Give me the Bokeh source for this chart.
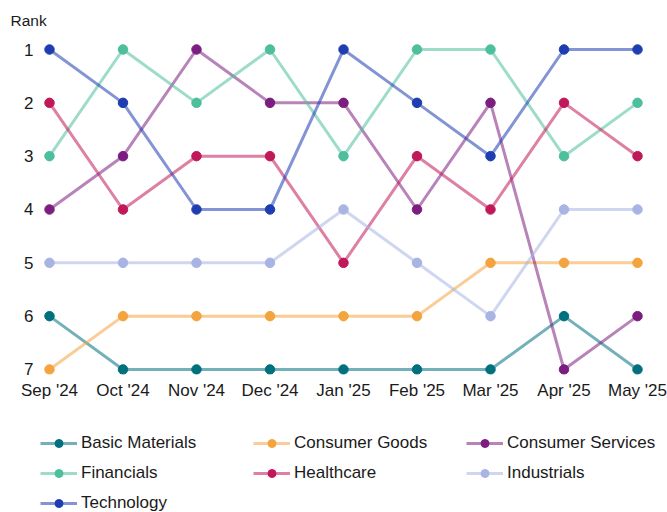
from bokeh.plotting import figure
from bokeh.layouts import column
from bokeh.models import Legend, LegendItem, FixedTicker, Range1d, Title
from bokeh.embed import file_html
from bokeh.resources import INLINE

months = ["Sep '24", "Oct '24", "Nov '24", "Dec '24", "Jan '25", "Feb '25", "Mar '25", "Apr '25", "May '25"]
basic_materials = [6, 7, 7, 7, 7, 7, 7, 6, 7]
consumer_goods = [7, 6, 6, 6, 6, 6, 5, 5, 5]
consumer_services = [4, 3, 1, 2, 2, 4, 2, 7, 6]
financials = [3, 1, 2, 1, 3, 1, 1, 3, 2]
healthcare = [2, 4, 3, 3, 5, 3, 4, 2, 3]
industrials = [5, 5, 5, 5, 4, 5, 6, 4, 4]
technology = [1, 2, 4, 4, 1, 2, 3, 1, 1]
rank_ticks = [1, 2, 3, 4, 5, 6, 7]

series = [
    ("Basic Materials", basic_materials, "#00707f"),
    ("Consumer Goods", consumer_goods, "#f4a43e"),
    ("Consumer Services", consumer_services, "#7b1e80"),
    ("Financials", financials, "#4dbf9d"),
    ("Healthcare", healthcare, "#c1185a"),
    ("Industrials", industrials, "#a8b4e3"),
    ("Technology", technology, "#1e3db0"),
]

FONT = "Liberation Sans"
x = list(range(len(months)))

p = figure(width=667, height=410, output_backend="svg", toolbar_location=None,
           x_range=Range1d(-0.1224, 8.34), y_range=Range1d(7.094, 0.756),
           min_border_left=40, min_border_right=5, min_border_top=36, min_border_bottom=36)
t = Title(text="Rank", align="left", offset=-30, text_font=FONT, text_font_size="15.5px",
          text_font_style="normal", text_color="#1a1a1a", standoff=16)
p.add_layout(t, "above")
p.outline_line_color = None
p.xgrid.grid_line_color = None
p.ygrid.grid_line_color = None

# legend strip: same series drawn outside its visible range, only the legend shows
leg = figure(width=667, height=102, output_backend="svg", toolbar_location=None,
             x_axis_type=None, y_axis_type=None,
             x_range=Range1d(100, 101), y_range=Range1d(100, 101), min_border=0)
leg.outline_line_color = None
leg.xgrid.grid_line_color = None
leg.ygrid.grid_line_color = None

items = []
for name, vals, col in series:
    p.line(x, vals, line_color=col, line_width=3, line_alpha=0.55)
    p.scatter(x, vals, size=9.5, fill_color=col, line_color=col)
    l = leg.line(x, vals, line_color=col, line_width=3, line_alpha=0.55)
    s = leg.scatter(x, vals, size=9.5, fill_color=col, line_color=col)
    items.append(LegendItem(label=name, renderers=[l, s]))

p.xaxis.ticker = FixedTicker(ticks=x)
p.xaxis.major_label_overrides = {i: m for i, m in enumerate(months)}
p.yaxis.ticker = FixedTicker(ticks=rank_ticks)
for ax in (p.xaxis, p.yaxis):
    ax.axis_line_color = None
    ax.major_tick_line_color = None
    ax.minor_tick_line_color = None
    ax.major_tick_out = 0
    ax.major_tick_in = 0
    ax.major_label_text_font = FONT
    ax.major_label_text_font_size = "17px"
    ax.major_label_text_color = "#1a1a1a"
p.xaxis.major_label_standoff = 6
p.yaxis.major_label_standoff = 7

legend = Legend(items=items, ncols=3, orientation="horizontal", location=(0, -1),
                label_text_font=FONT, label_text_font_size="17px", label_text_color="#1a1a1a",
                glyph_width=37, glyph_height=20, label_standoff=4, label_width=162, label_height=20,
                spacing=10, padding=0, margin=0, border_line_alpha=0, background_fill_alpha=0)
leg.add_layout(legend, "center")

layout = column(p, leg, spacing=0)
open("out.html", "w").write(file_html(layout, INLINE))
